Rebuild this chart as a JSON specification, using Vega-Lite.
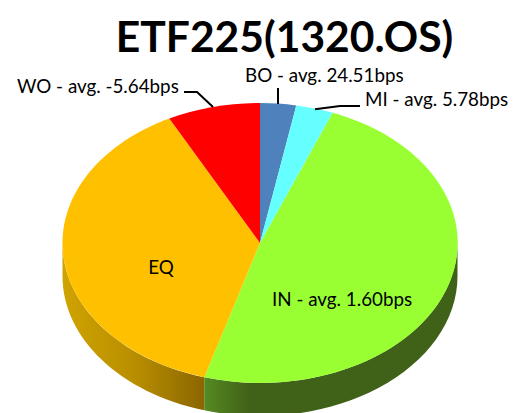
{
"$schema":"https://vega.github.io/schema/vega-lite/v6.json",
"width":515,"height":413,"padding":0,"autosize":{"type":"none"},
"background":"white",
"view":{"stroke":null},
"title":{"text":"ETF225(1320.OS)","font":"Lato","fontSize":42.6,"fontWeight":"bold","color":"#000000","anchor":"middle","baseline":"middle","offset":0,"dy":82,"dx":27},
"data":{"values":[
{"segment":"BO","share":2.9,"avg_bps":24.51,"label":"BO - avg. 24.51bps"},
{"segment":"MI","share":3.1,"avg_bps":5.78,"label":"MI - avg. 5.78bps"},
{"segment":"IN","share":48.6,"avg_bps":1.60,"label":"IN - avg. 1.60bps"},
{"segment":"EQ","share":37.8,"label":"EQ"},
{"segment":"WO","share":7.6,"avg_bps":-5.64,"label":"WO - avg. -5.64bps"}
]},
"layer":[
{"transform":[{"filter":"datum.segment==='EQ'"}],
"mark":{"type":"point","filled":true,"opacity":1,"size":4,"xOffset":2.5,"yOffset":36.5,
"shape":"M-197.5,0A197.5,140 0 0 0 -55.7,134.3L-55.7,167.3A197.5,140 0 0 1 -197.5,33Z",
"fill":{"gradient":"linear","x1":0,"y1":0,"x2":1,"y2":0,"stops":[{"offset":0,"color":"#cfa300"},{"offset":0.5,"color":"#b98f00"},{"offset":1,"color":"#8b6600"}]}},"encoding":{}},
{"transform":[{"filter":"datum.segment==='IN'"}],
"mark":{"type":"point","filled":true,"opacity":1,"size":4,"xOffset":2.5,"yOffset":36.5,
"shape":"M-55.7,134.3A197.5,140 0 0 0 197.5,0L197.5,33A197.5,140 0 0 1 -55.7,167.3Z",
"fill":{"gradient":"linear","x1":0,"y1":0,"x2":1,"y2":0,"stops":[{"offset":0,"color":"#558a22"},{"offset":0.18,"color":"#3f6118"},{"offset":1,"color":"#3f6118"}]}},"encoding":{}},
{"mark":{"type":"point","filled":true,"opacity":1,"size":4,"xOffset":2.5,"yOffset":36.5},
"encoding":{
"shape":{"field":"segment","type":"nominal","legend":null,"scale":{"domain":["BO","MI","IN","EQ","WO"],"range":[
"M0,0L0,-140A197.5,140 0 0 1 36.3,-137.6Z",
"M0,0L36.3,-137.6A197.5,140 0 0 1 72.7,-130.2Z",
"M0,0L72.7,-130.2A197.5,140 0 0 1 -55.7,134.3Z",
"M0,0L-55.7,134.3A197.5,140 0 0 1 -90.7,-124.4Z",
"M0,0L-90.7,-124.4A197.5,140 0 0 1 0,-140Z"]}},
"fill":{"field":"segment","type":"nominal","legend":null,"scale":{"domain":["BO","MI","IN","EQ","WO"],"range":["#4f81bd","#66ffff","#99ff33","#ffc000","#ff0000"]}}}},
{"transform":[{"filter":"datum.segment==='WO'"}],"mark":{"type":"point","filled":false,"opacity":1,"size":4,"xOffset":2.5,"yOffset":36.5,"stroke":"#000000","strokeWidth":2,"shape":"M-76,-151L-63,-151L-47,-136"},"encoding":{}},
{"transform":[{"filter":"datum.segment==='BO'"}],"mark":{"type":"point","filled":false,"opacity":1,"size":4,"xOffset":2.5,"yOffset":36.5,"stroke":"#000000","strokeWidth":2,"shape":"M18,-155L18,-139"},"encoding":{}},
{"transform":[{"filter":"datum.segment==='MI'"}],"mark":{"type":"point","filled":false,"opacity":1,"size":4,"xOffset":2.5,"yOffset":36.5,"stroke":"#000000","strokeWidth":2,"shape":"M100,-137L80,-137L55,-133.7"},"encoding":{}},
{"transform":[{"filter":"datum.segment==='WO'"}],"mark":{"type":"text","font":"Lato","fontSize":18.8,"align":"left","baseline":"middle","color":"#000000","xOffset":-240.5,"yOffset":-119.5},"encoding":{"text":{"field":"label"}}},
{"transform":[{"filter":"datum.segment==='BO'"}],"mark":{"type":"text","font":"Lato","fontSize":18.8,"align":"left","baseline":"middle","color":"#000000","xOffset":-12.5,"yOffset":-130.5},"encoding":{"text":{"field":"label"}}},
{"transform":[{"filter":"datum.segment==='MI'"}],"mark":{"type":"text","font":"Lato","fontSize":18.8,"align":"left","baseline":"middle","color":"#000000","xOffset":107.5,"yOffset":-106.5},"encoding":{"text":{"field":"label"}}},
{"transform":[{"filter":"datum.segment==='EQ'"}],"mark":{"type":"text","font":"Lato","fontSize":18.8,"align":"center","baseline":"middle","color":"#000000","xOffset":-96.5,"yOffset":61.5},"encoding":{"text":{"field":"label"}}},
{"transform":[{"filter":"datum.segment==='IN'"}],"mark":{"type":"text","font":"Lato","fontSize":18.8,"align":"left","baseline":"middle","color":"#000000","xOffset":14.5,"yOffset":93.5},"encoding":{"text":{"field":"label"}}}
]
}
